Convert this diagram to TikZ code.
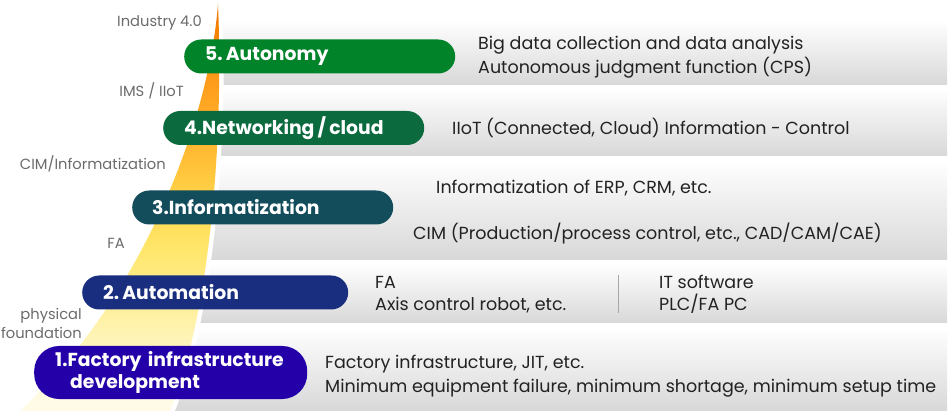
\documentclass[tikz,border=0pt]{standalone}
\usepackage{fontspec}
\setmainfont{Poppins}
\usetikzlibrary{positioning}

\definecolor{greenauto}{HTML}{01832A}
\definecolor{greennet}{HTML}{0B6A3E}
\definecolor{tealinfo}{HTML}{134D5C}
\definecolor{navyauto}{HTML}{1A2E80}
\definecolor{purplefac}{HTML}{2300A8}
\definecolor{desctext}{HTML}{222222}
\definecolor{sidetext}{HTML}{6B6B6B}
\definecolor{bandgray}{HTML}{D8D8D8}
\definecolor{bandmid}{HTML}{F3F3F3}
\definecolor{sepgray}{HTML}{A8A8A8}
\definecolor{conelow}{HTML}{FFFBE6}
\definecolor{conepale}{HTML}{FFF3B0}
\definecolor{coneyel}{HTML}{FFE66A}
\definecolor{conegold}{HTML}{FFD54A}
\definecolor{coneamb}{HTML}{FFBA33}
\definecolor{coneorg}{HTML}{FFA21F}
\definecolor{conetop}{HTML}{F57C00}

\pgfdeclareverticalshading{coneshade}{100bp}{color(0bp)=(conelow); color(26bp)=(conelow); color(35bp)=(conepale); color(45bp)=(coneyel); color(51bp)=(conegold); color(57bp)=(coneamb); color(64bp)=(coneorg); color(73bp)=(conetop); color(100bp)=(conetop)}

\tikzset{
  pill/.style={fill=#1, rounded corners=17pt, text=white, anchor=west,
    font=\bfseries\fontsize{18.8}{22}\selectfont, minimum height=34pt,
    inner xsep=21pt, inner ysep=0pt, align=left},
  band/.style={top color=white, middle color=bandmid, bottom color=bandgray, draw=none},
  desc/.style={text=desctext, anchor=base west, inner sep=0pt,
    font=\fontsize{17.5}{20}\selectfont},
  sidelabel/.style={text=sidetext, inner sep=0pt,
    font=\fontsize{14.7}{17}\selectfont},
  sepline/.style={draw=sepgray, line width=1pt}
}

\begin{document}
\begin{tikzpicture}[x=1pt,y=-1pt]
\useasboundingbox (0,0) rectangle (950,411);

% grey bands behind the levels
\begin{scope}
\clip (218,0) .. controls (224,150) and (208,320) .. (170,411) -- (950,411) -- (950,0) -- cycle;
\foreach \btop/\bbot in {20/85, 88/156, 160/260, 264/323, 327/410}
  \shade[band] (150,\btop) rectangle (947,\bbot);
\end{scope}
\draw[white, line width=9pt] (218,4) .. controls (224,150) and (208,320) .. (170,411);

% growth cone
\shade[shading=coneshade] (20,411) .. controls (150,290) and (210,110) .. (218,4)
  .. controls (224,150) and (208,320) .. (170,411) -- cycle;

% level pills
\node[pill=greenauto, text width=229pt] (auto) at (184,56.5) {5.\,Autonomy};
\node[pill=greennet, text width=219pt] (net) at (163,128) {4.Networking\,/\,cloud};
\node[pill=tealinfo, text width=221pt, inner xsep=20pt] (info) at (132,207.5) {3.Informatization};
\node[pill=navyauto, text width=224pt] (autom) at (82,292.5) {2.\,Automation};
\node[pill=purplefac, text width=231pt, minimum height=53pt, rounded corners=25pt] (fact) at (34,372.5)
  {1.Factory infrastructure\\\hspace*{15pt}development};

% era labels on the left
\node[sidelabel, anchor=base east] (ind) at (202,27) {Industry 4.0};
\node[sidelabel, anchor=base east] (ims) at (184,97) {IMS / IIoT};
\node[sidelabel, anchor=base east] (cim) at (166,170) {CIM/Informatization};
\node[sidelabel, anchor=base east] (fa) at (125,249) {FA};
\node[sidelabel, anchor=base east] (phys) at (82,320) {physical};
\node[sidelabel, anchor=base east] (found) at (82,338) {foundation};

% descriptions
\node[desc] (d5a) at (478,50) {Big data collection and data analysis};
\node[desc] (d5b) at (478,74) {Autonomous judgment function (CPS)};
\node[desc] (d4) at (452,135) {IIoT (Connected, Cloud) Information - Control};
\node[desc] (d3a) at (436,194) {Informatization of ERP, CRM, etc.};
\node[desc] (d3b) at (413,240) {CIM (Production/process control, etc., CAD/CAM/CAE)};
\node[desc] (d2a) at (375,289) {FA};
\node[desc] (d2b) at (375,311) {Axis control robot, etc.};
\node[desc] (d2c) at (659,289) {IT software};
\node[desc] (d2d) at (659,311) {PLC/FA PC};
\node[desc] (d1a) at (325,368) {Factory infrastructure, JIT, etc.};
\node[desc] (d1b) at (325,392) {Minimum equipment failure, minimum shortage, minimum setup time};
\draw[sepline] (618,275) -- (618,313);
\end{tikzpicture}
\end{document}
